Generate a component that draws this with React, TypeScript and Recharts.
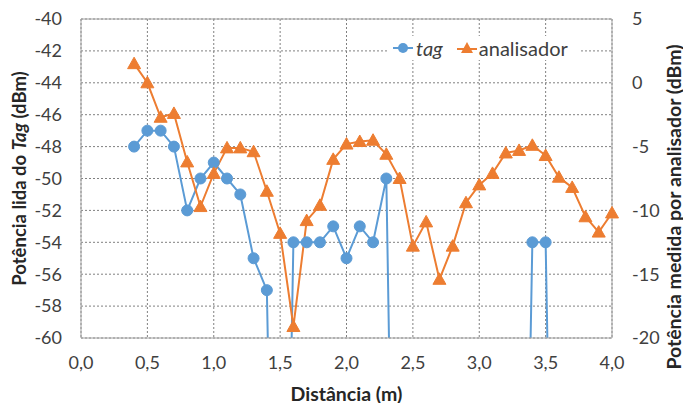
import React from 'react';
import { LineChart, Line, XAxis, YAxis, CartesianGrid, ReferenceLine } from 'recharts';

const distancias = [
  0.4, 0.5, 0.6, 0.7, 0.8, 0.9, 1.0, 1.1, 1.2, 1.3, 1.4, 1.5, 1.6, 1.7, 1.8, 1.9, 2.0, 2.1, 2.2,
  2.3, 2.4, 2.5, 2.6, 2.7, 2.8, 2.9, 3.0, 3.1, 3.2, 3.3, 3.4, 3.5, 3.6, 3.7, 3.8, 3.9, 4.0,
];

// -100 = sem leitura da tag (fica abaixo do eixo)
const potenciaTag = [
  -48, -47, -47, -48, -52, -50, -49, -50, -51, -55, -57, -100, -54, -54, -54, -53, -55, -53, -54,
  -50, -100, -100, -100, -100, -100, -100, -100, -100, -100, -100, -54, -54, -100, -100, -100, -100, -100,
];

const potenciaAnalisador = [
  1.5, 0, -2.7, -2.4, -6.2, -9.7, -7.1, -5.1, -5.1, -5.4, -8.5, -11.8, -19.1, -10.8, -9.6, -6.0, -4.8, -4.6, -4.5,
  -5.6, -7.5, -12.8, -10.9, -15.4, -12.8, -9.4, -8.0, -7.1, -5.5, -5.3, -4.9, -5.7, -7.4, -8.2, -10.5, -11.7, -10.2,
];

const ticksDistancia = [0, 0.5, 1, 1.5, 2, 2.5, 3, 3.5, 4];
const ticksTag = [-60, -58, -56, -54, -52, -50, -48, -46, -44, -42, -40];
const ticksAnalisador = [-20, -15, -10, -5, 0, 5];

const data = distancias.map((d, i) => ({ d, tag: potenciaTag[i], analisador: potenciaAnalisador[i] }));

const AZUL = '#5B9BD5';
const LARANJA = '#ED7D31';
const FONTE = 'Lato, "Open Sans", sans-serif';
const tickStyle = { fill: '#404040', fontSize: 18, fontFamily: FONTE };

const CircleDot = (props: any) => {
  const { cx, cy, index } = props;
  if (cx == null || cy == null) return <g key={index} />;
  return <circle key={index} cx={cx} cy={cy} r={5.5} fill={AZUL} stroke={AZUL} />;
};

const TriangleDot = (props: any) => {
  const { cx, cy, index } = props;
  if (cx == null || cy == null) return <g key={index} />;
  return (
    <polygon
      key={index}
      points={`${cx},${cy - 6.5} ${cx - 6.5},${cy + 5} ${cx + 6.5},${cy + 5}`}
      fill={LARANJA}
      stroke={LARANJA}
    />
  );
};

const LeftTitle = (props: any) => {
  const { viewBox } = props;
  const x = 19;
  const y = viewBox.y + viewBox.height / 2;
  return (
    <text
      x={x}
      y={y}
      transform={`rotate(-90, ${x}, ${y})`}
      textAnchor="middle"
      dominantBaseline="central"
      fontFamily={FONTE}
      fontWeight="bold"
      fontSize={18.5}
      fill="#262626"
    >
      Potência lida do <tspan fontStyle="italic">Tag</tspan> (dBm)
    </text>
  );
};

const RightTitle = () => {
  const x = 673;
  const y = 207;
  return (
    <text
      x={x}
      y={y}
      transform={`rotate(-90, ${x}, ${y})`}
      textAnchor="middle"
      dominantBaseline="central"
      fontFamily={FONTE}
      fontWeight="bold"
      fontSize={19.5}
      fill="#262626"
    >
      Potência medida por analisador (dBm)
    </text>
  );
};

const BottomTitle = (props: any) => {
  const { viewBox } = props;
  return (
    <text
      x={viewBox.x + viewBox.width / 2}
      y={393}
      textAnchor="middle"
      dominantBaseline="central"
      fontFamily={FONTE}
      fontWeight="bold"
      fontSize={19.5}
      fill="#262626"
    >
      Distância (m)
    </text>
  );
};

const LegendBox = () => (
  <div
    style={{
      position: 'absolute',
      top: 36,
      left: 387,
      width: 192,
      height: 24,
      display: 'flex',
      alignItems: 'center',
      background: '#fff',
      fontFamily: FONTE,
      fontSize: 20,
      color: '#404040',
      paddingLeft: 6,
      boxSizing: 'border-box',
    }}
  >
    <svg width={20} height={14}>
      <line x1={0} y1={7} x2={20} y2={7} stroke={AZUL} strokeWidth={2} />
      <circle cx={10} cy={7} r={5} fill={AZUL} />
    </svg>
    <span style={{ fontStyle: 'italic', marginLeft: 3, marginRight: 14 }}>tag</span>
    <svg width={20} height={14}>
      <line x1={0} y1={8} x2={20} y2={8} stroke={LARANJA} strokeWidth={2} />
      <polygon points="10,1 4,12 16,12" fill={LARANJA} />
    </svg>
    <span style={{ marginLeft: 2 }}>analisador</span>
  </div>
);

export default function App() {
  return (
    <div style={{ position: 'absolute', left: 0, top: 0, width: 683, height: 403, background: '#fff' }}>
      <LineChart width={683} height={403} data={data} margin={{ top: 19, right: 0, bottom: 0, left: 0 }}>
        <CartesianGrid
          yAxisId="left"
          stroke="#808080"
          strokeDasharray="2 2"
          horizontalValues={ticksTag}
          verticalValues={ticksDistancia}
        />
        <XAxis
          dataKey="d"
          type="number"
          domain={[0, 4]}
          ticks={ticksDistancia}
          tickFormatter={(v: number) => v.toFixed(1).replace('.', ',')}
          height={65}
          stroke="#a0a0a0"
          tickLine={false}
          tickSize={0}
          tickMargin={18}
          tick={tickStyle}
          label={<BottomTitle />}
        />
        <YAxis
          yAxisId="left"
          domain={[-60, -40]}
          ticks={ticksTag}
          allowDataOverflow
          width={81}
          stroke="#a0a0a0"
          tickLine={false}
          tickSize={0}
          tickMargin={19}
          tick={tickStyle}
          label={<LeftTitle />}
        />
        <YAxis
          yAxisId="right"
          orientation="right"
          domain={[-20, 5]}
          ticks={ticksAnalisador}
          allowDataOverflow
          width={71}
          stroke="#a0a0a0"
          tickLine={false}
          tickSize={0}
          tickMargin={20}
          tick={{ ...tickStyle, textAnchor: 'start' }}
          label={<RightTitle />}
        />
        <ReferenceLine yAxisId="left" y={-40} stroke="#a0a0a0" />
        <Line
          yAxisId="left"
          dataKey="tag"
          stroke={AZUL}
          strokeWidth={2}
          dot={CircleDot}
          activeDot={false}
          isAnimationActive={false}
        />
        <Line
          yAxisId="right"
          dataKey="analisador"
          stroke={LARANJA}
          strokeWidth={2}
          dot={TriangleDot}
          activeDot={false}
          isAnimationActive={false}
        />
      </LineChart>
      <LegendBox />
    </div>
  );
}
